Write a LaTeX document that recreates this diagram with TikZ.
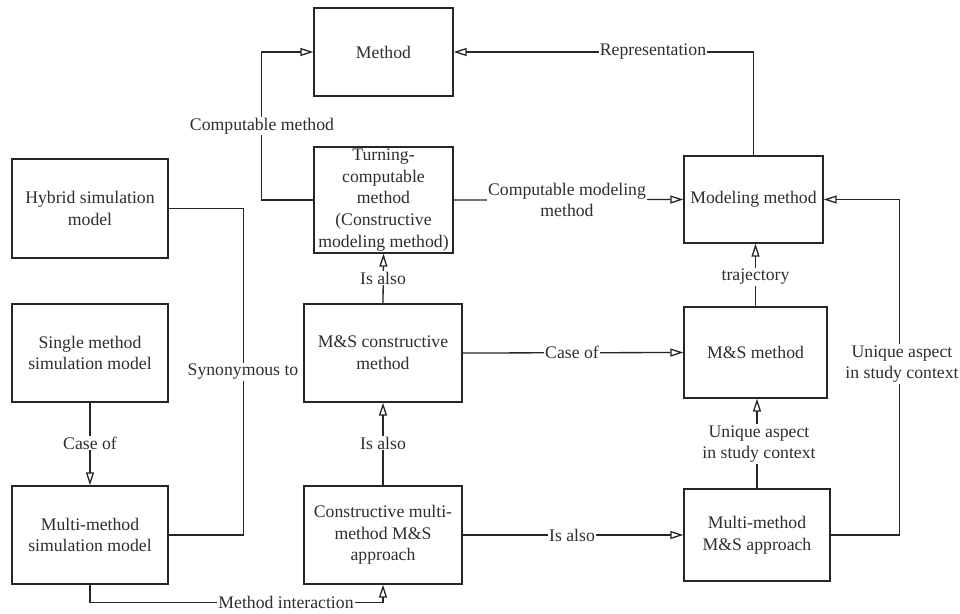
\documentclass[tikz,border=0pt]{standalone}
\usepackage{fontspec}
\setmainfont{Liberation Serif}
\usetikzlibrary{arrows.meta}
\definecolor{lc}{HTML}{262626}
\definecolor{txt}{HTML}{2E2E2E}
\begin{document}
\begin{tikzpicture}[x=1pt,y=-1pt,
  every node/.style={font=\fontsize{17.7}{21.7}\selectfont},
  box/.style={draw=lc, line width=1.3pt, align=center, inner sep=0pt, text=txt},
  lbl/.style={fill=white, inner sep=1pt, align=center, text=txt},
  conn/.style={draw=lc, line width=1.3pt},
  tip/.style={-{Triangle[open,length=13pt,width=8pt]}}]
\useasboundingbox[fill=white] (0,0) rectangle (960,613);

% boxes
\node[box, minimum width=139pt, minimum height=88pt] (method) at (383.5,52) {Method};
\node[box, minimum width=139pt, minimum height=106pt] (tcm) at (383.5,200) {Turning-\\computable\\method\\(Constructive\\modeling method)};
\node[box, minimum width=139pt, minimum height=87pt] (mm) at (753.5,199.5) {Modeling method};
\node[box, minimum width=143pt, minimum height=91pt] (msm) at (755.5,352.5) {M\&S method};
\node[box, minimum width=146pt, minimum height=92pt] (mma) at (757,535) {Multi-method\\M\&S approach};
\node[box, minimum width=158pt, minimum height=98pt] (msc) at (383,353) {M\&S constructive\\method};
\node[box, minimum width=158pt, minimum height=98pt] (cma) at (383,535) {Constructive multi-\\method M\&S\\approach};
\node[box, minimum width=156pt, minimum height=99pt] (hsm) at (90,208.5) {Hybrid simulation\\model};
\node[box, minimum width=156pt, minimum height=98pt] (sms) at (90,353) {Single method\\simulation model};
\node[box, minimum width=156pt, minimum height=98pt] (mms) at (90,535) {Multi-method\\simulation model};

% connectors
\draw[conn,tip] (tcm.west) -- ++(-52,0) |- (method.west);
\draw[conn,tip] (mm.north) |- (method.east);
\draw[conn,tip] (tcm.east) -- (mm.west);
\draw[conn,tip] (mma.east) -- ++(69,0) |- (mm.east);
\draw[conn,tip] (msm.north) -- (msm.north |- mm.south);
\draw[conn,tip] (mma.north) -- (mma.north |- msm.south);
\draw[conn,tip] (msc.east) -- (msm.west);
\draw[conn,tip] (cma.east) -- (mma.west);
\draw[conn,tip] (msc.north) -- (tcm.south);
\draw[conn,tip] (cma.north) -- (msc.south);
\draw[conn] (hsm.east) -- ++(75,0) |- (mms.east);
\draw[conn,tip] (sms.south) -- (mms.north);
\draw[conn,tip] (mms.south) -- ++(0,18) -| (cma.south);

% labels
\node[lbl] (l1) at (262,126) {Computable method};
\node[lbl] (l2) at (653,52) {Representation};
\node[lbl] (l3) at (567,200) {Computable modeling\\method};
\node[lbl] (l4) at (902,364) {Unique aspect\\in study context};
\node[lbl] (l5) at (755.5,277) {trajectory};
\node[lbl] (l6) at (759,444) {Unique aspect\\in study context};
\node[lbl] (l7) at (572,352.5) {Case of};
\node[lbl] (l8) at (572,535) {Is also};
\node[lbl] (l9) at (383,278) {Is also};
\node[lbl] (l10) at (383,443) {Is also};
\node[lbl] (l11) at (243,372) {Synonymous to};
\node[lbl] (l12) at (90,443) {Case of};
\node[lbl] (l13) at (286,602) {Method interaction};
\end{tikzpicture}
\end{document}
